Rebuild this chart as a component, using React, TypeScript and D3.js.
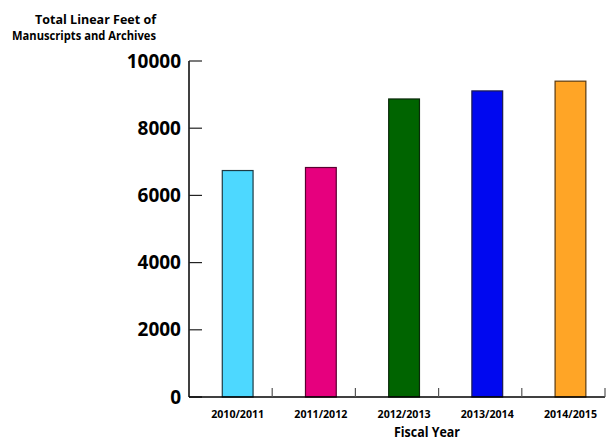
import React from 'react';
import * as d3 from 'd3';

const years = ['2010/2011', '2011/2012', '2012/2013', '2013/2014', '2014/2015'];
const linearFeet = [6740, 6830, 8870, 9110, 9400];
const barColors = ['#4dd8ff', '#e6007e', '#006400', '#0008f0', '#ffa526'];
const barStrokes = ['#1d3a44', '#5a0030', '#0a2a0a', '#1a1a50', '#5a3a10'];
const yTicks = [0, 2000, 4000, 6000, 8000, 10000];

const W = 612;
const H = 442;
const FONT = '"Open Sans", "DejaVu Sans", sans-serif';

export default function App() {
  const x = d3.scaleBand<string>().domain(years).range([189, 605]).padding(0);
  const y = d3.scaleLinear().domain([0, 10000]).range([397, 61]);
  const bw = x.bandwidth();

  return (
    <svg
      width={W}
      height={H}
      style={{ position: 'absolute', left: 0, top: 0, background: '#fff' }}
    >
      {/* y axis title */}
      <g fontFamily={FONT} fontWeight={700} fontSize={11.6} fill="#000" textAnchor="end">
        <text x={156} y={24} textLength={121} lengthAdjust="spacingAndGlyphs">Total Linear Feet of</text>
        <text x={156} y={40} textLength={144} lengthAdjust="spacingAndGlyphs">Manuscripts and Archives</text>
      </g>

      {/* bars */}
      {years.map((yr, i) => (
        <rect
          key={yr}
          x={(x(yr) ?? 0) + bw * 0.4}
          y={y(linearFeet[i])}
          width={bw * 0.37}
          height={y(0) - y(linearFeet[i])}
          fill={barColors[i]}
          stroke={barStrokes[i]}
          strokeWidth={1.2}
        />
      ))}

      {/* y axis */}
      <line x1={189} x2={189} y1={y(10000)} y2={y(0)} stroke="#000" strokeWidth={1.5} />
      {yTicks.map((t) => (
        <g key={t}>
          <line x1={189} x2={202} y1={y(t)} y2={y(t)} stroke="#222" strokeWidth={1.2} />
          <text
            x={181}
            y={y(t) + 6.5}
            textAnchor="end"
            fontFamily={FONT}
            fontWeight={700}
            fontSize={19}
            fill="#000"
          >
            {t}
          </text>
        </g>
      ))}

      {/* x axis */}
      <line x1={189} x2={605} y1={y(0)} y2={y(0)} stroke="#000" strokeWidth={1.5} />
      {years.map((yr) => (
        <line
          key={'t' + yr}
          x1={(x(yr) ?? 0) + bw}
          x2={(x(yr) ?? 0) + bw}
          y1={y(0)}
          y2={y(0) - 9}
          stroke="#555"
          strokeWidth={1.2}
        />
      ))}
      {years.map((yr) => (
        <text
          key={'l' + yr}
          x={(x(yr) ?? 0) + bw * 0.4 + bw * 0.185}
          y={418}
          textAnchor="middle"
          fontFamily={FONT}
          fontWeight={700}
          fontSize={11}
          textLength={53}
          lengthAdjust="spacingAndGlyphs"
          fill="#000"
        >
          {yr}
        </text>
      ))}
      <text
        x={427}
        y={437}
        textAnchor="middle"
        fontFamily={FONT}
        fontWeight={700}
        fontSize={14}
        textLength={66}
        lengthAdjust="spacingAndGlyphs"
        fill="#000"
      >
        Fiscal Year
      </text>
    </svg>
  );
}
